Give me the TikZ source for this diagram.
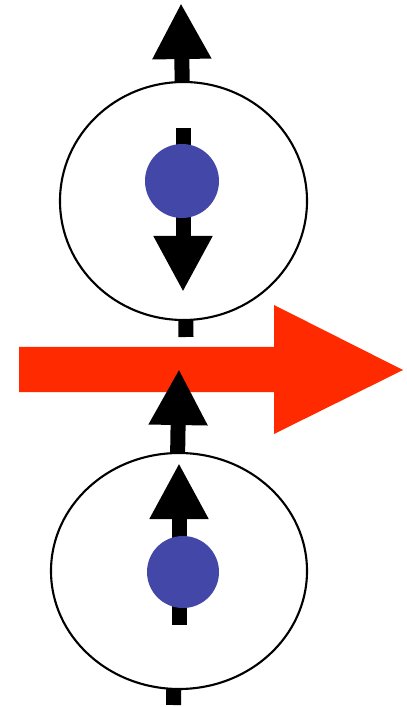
\documentclass[tikz,border=0pt]{standalone}
\usetikzlibrary{arrows.meta}
\definecolor{rojo}{RGB}{255,42,0}
\definecolor{azul}{RGB}{67,71,168}
\begin{document}
\begin{tikzpicture}[x=0.01cm, y=-0.01cm,
    espin/.style={line width=0.15cm,-{Triangle[length=0.56cm,width=0.55cm]}},
    orbita/.style={draw=black,fill=white,line width=0.6pt},
    nucleo/.style={fill=azul}]
    \useasboundingbox (0,0) rectangle (406,707);

    % Flecha roja horizontal.
    \fill[rojo] (19,347) -- (274,347) -- (274,305) -- (403,370)
        -- (274,434) -- (274,392) -- (19,392) -- cycle;

    % Atomo superior: espin exterior, orbita y espin interior.
    \coordinate (s0) at (186,337);
    \coordinate (s1) at (181,3);
    \draw[espin] (s0) -- (s1);
    \draw[orbita] (183.5,201) ellipse [x radius=123.5, y radius=119];
    \coordinate (t0) at (183,128);
    \coordinate (t1) at (183,292);
    \draw[espin] (t0) -- (t1);
    \fill[nucleo] (182,181) circle [radius=37];

    % Atomo inferior.
    \coordinate (u0) at (173.5,705);
    \coordinate (u1) at (179,369);
    \draw[espin] (u0) -- (u1);
    \draw[orbita] (179,571) ellipse [x radius=128, y radius=118];
    \coordinate (v0) at (179,625);
    \coordinate (v1) at (179,463);
    \draw[espin] (v0) -- (v1);
    \fill[nucleo] (183,572) circle [radius=36];
\end{tikzpicture}
\end{document}
